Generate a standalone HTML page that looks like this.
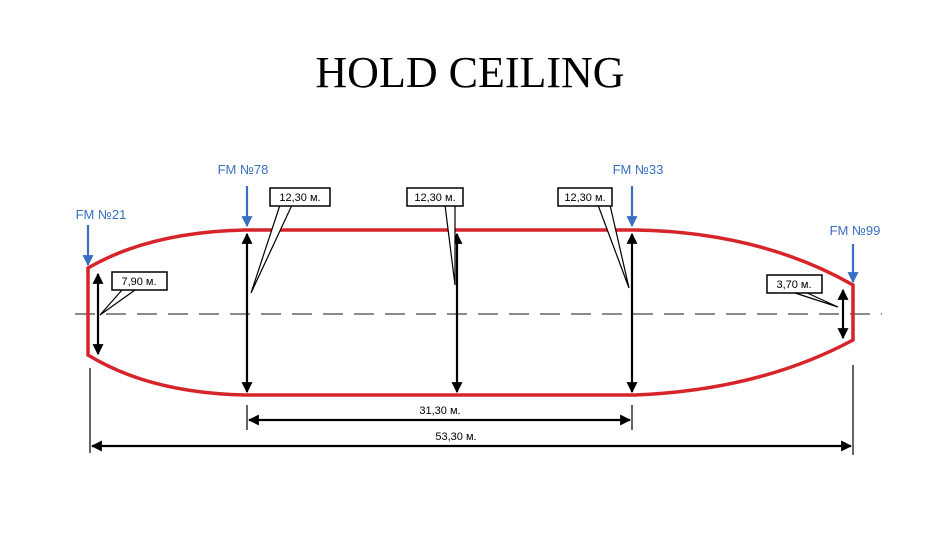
<!DOCTYPE html>
<html><head><meta charset="utf-8"><style>
body{margin:0;background:#fff;width:950px;height:537px;overflow:hidden}
svg{display:block}
</style></head><body>
<svg width="950" height="537" viewBox="0 0 950 537" xmlns="http://www.w3.org/2000/svg">
<defs>
<marker id="ah" viewBox="0 0 10 10" refX="9" refY="5" markerWidth="5" markerHeight="5" orient="auto-start-reverse"><path d="M0,0L10,5L0,10z" fill="#000"/></marker>
<marker id="bh" viewBox="0 0 10 10" refX="9" refY="5" markerWidth="5" markerHeight="5" orient="auto"><path d="M0,0L10,5L0,10z" fill="#3a6ec2"/></marker>
</defs>
<text x="470" y="87" font-family="Liberation Serif, serif" font-size="44" text-anchor="middle">HOLD CEILING</text>
<line x1="75" y1="314" x2="882" y2="314" stroke="#444" stroke-width="1.2" stroke-dasharray="20,11"/>
<path d="M88,268 Q150,232 245,230 L635,230 Q760,232 853,285 L853,340 Q760,390 635,395 L245,395 Q150,393 88,355 Z" fill="none" stroke="#d7242b" stroke-width="3.5"/>
<g stroke="#000" stroke-width="2.2" fill="none">
<line x1="98" y1="274" x2="98" y2="354" marker-start="url(#ah)" marker-end="url(#ah)"/>
<line x1="247" y1="234" x2="247" y2="392" marker-start="url(#ah)" marker-end="url(#ah)"/>
<line x1="457" y1="234" x2="457" y2="392" marker-start="url(#ah)" marker-end="url(#ah)"/>
<line x1="632" y1="234" x2="632" y2="392" marker-start="url(#ah)" marker-end="url(#ah)"/>
<line x1="843" y1="290" x2="843" y2="338" marker-start="url(#ah)" marker-end="url(#ah)"/>
<line x1="249" y1="420" x2="630" y2="420" marker-start="url(#ah)" marker-end="url(#ah)"/>
<line x1="92" y1="446" x2="851" y2="446" marker-start="url(#ah)" marker-end="url(#ah)"/>
</g>
<g stroke="#000" stroke-width="1.2">
<line x1="247" y1="405" x2="247" y2="430"/><line x1="632" y1="405" x2="632" y2="430"/>
<line x1="90" y1="368" x2="90" y2="453"/><line x1="853" y1="365" x2="853" y2="455"/>
</g>
<g stroke="#000" stroke-width="1.2" fill="#fff">
<polyline points="122,290 100,315 135,290"/>
<polyline points="280,205 251,293 292,205"/>
<polyline points="445,205 455,285 455,205"/>
<polyline points="598,205 629,288 610,205"/>
<polyline points="792,292 838,307 805,292"/>
</g>
<g stroke="#000" stroke-width="1.5" fill="#fff">
<rect x="112" y="272" width="55" height="18"/>
<rect x="270" y="188" width="60" height="18"/>
<rect x="407" y="188" width="56" height="18"/>
<rect x="558" y="188" width="54" height="18"/>
<rect x="767" y="275" width="55" height="18"/>
</g>
<g font-family="Liberation Sans, sans-serif" font-size="11" fill="#000" text-anchor="middle">
<text x="139" y="285">7,90 м.</text>
<text x="300" y="201">12,30 м.</text>
<text x="435" y="201">12,30 м.</text>
<text x="585" y="201">12,30 м.</text>
<text x="794" y="288">3,70 м.</text>
<text x="440" y="414">31,30 м.</text>
<text x="456" y="440">53,30 м.</text>
</g>
<g stroke="#3a6ec2" stroke-width="2.2">
<line x1="88" y1="225" x2="88" y2="265" marker-end="url(#bh)"/>
<line x1="247" y1="186" x2="247" y2="226" marker-end="url(#bh)"/>
<line x1="632" y1="186" x2="632" y2="226" marker-end="url(#bh)"/>
<line x1="853" y1="244" x2="853" y2="282" marker-end="url(#bh)"/>
</g>
<g font-family="Liberation Sans, sans-serif" font-size="13" fill="#3a6ec2" text-anchor="middle">
<text x="101" y="219">FM №21</text>
<text x="243" y="174">FM №78</text>
<text x="638" y="174">FM №33</text>
<text x="855" y="235">FM №99</text>
</g>
</svg>
</body></html>
